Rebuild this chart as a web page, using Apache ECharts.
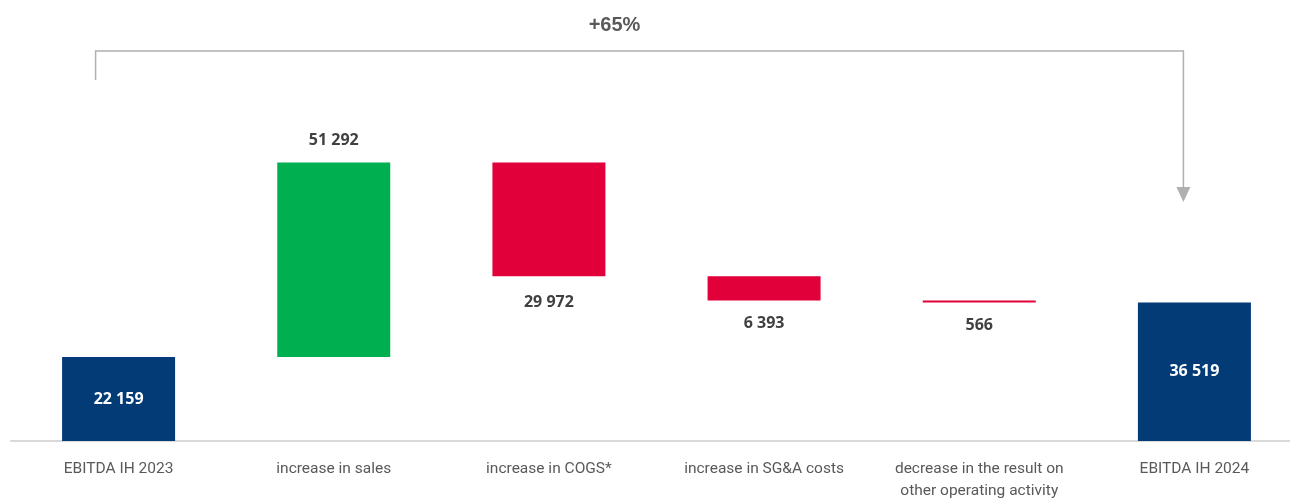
<!DOCTYPE html>
<html><head><meta charset="utf-8">
<script src="https://cdn.jsdelivr.net/npm/echarts@6/dist/echarts.min.js"></script>
<style>html,body{margin:0;padding:0;background:#fff;overflow:hidden}#c{width:1290px;height:499px}</style>
</head><body><div id="c"></div>
<script>
const categories = ['EBITDA IH 2023','increase in sales','increase in COGS*','increase in SG&A costs','decrease in the result on\nother operating activity','EBITDA IH 2024'];
const values = [22159, 51292, -29972, -6393, -566, 36519];
const kinds = ['total','up','down','down','down','total'];
const changeLabel = '+65%';

const colors = {total:'#033B77', up:'#00B050', down:'#E2003A'};
const fmt = v => String(Math.abs(v)).replace(/\B(?=(\d{3})+(?!\d))/g, ' ');

// build waterfall stacks
const base = [], shown = [];
let run = 0;
values.forEach((v,i)=>{
  if (kinds[i]==='total'){ base.push(0); shown.push(v); run = v; }
  else if (v>=0){ base.push(run); shown.push(v); run += v; }
  else { run += v; base.push(run); shown.push(-v); }
});

const chart = echarts.init(document.getElementById('c'));
const labelFont = {fontFamily:'Open Sans', fontWeight:'bold', fontSize:16};
chart.setOption({
  animation:false,
  grid:{left:11, width:1291, top:62, bottom:58, containLabel:false, outerBoundsMode:'none'},
  xAxis:{type:'category', data:categories,
    axisLine:{lineStyle:{color:'#D9D9D9', width:2}}, axisTick:{show:false},
    axisLabel:{color:'#595959', fontSize:15.5, fontFamily:'Roboto', margin:17, lineHeight:22, interval:0}},
  yAxis:{type:'value', min:0, max:100000, show:false, splitLine:{show:false}},
  series:[
    {type:'bar', stack:'w', data:base, itemStyle:{color:'transparent'}, barWidth:113, silent:true},
    {type:'bar', stack:'w', barWidth:113,
      data: shown.map((v,i)=>({
        value:v,
        itemStyle:{color:colors[kinds[i]]},
        label: kinds[i]==='total'
          ? {show:true, position:'inside', color:'#fff', ...labelFont, formatter:()=>fmt(values[i])}
          : kinds[i]==='up'
            ? {show:true, position:'top', distance:14, color:'#404040', ...labelFont, formatter:()=>fmt(values[i])}
            : {show:true, position:'bottom', distance: i===2 ? 18 : 15, color:'#404040', ...labelFont, formatter:()=>fmt(values[i])}
      }))
    }
  ]
});

// bracket annotation
const x0 = chart.convertToPixel({xAxisIndex:0}, 0) - 23;
const x5 = chart.convertToPixel({xAxisIndex:0}, 5) - 11;
const yTop = 51, yLeftEnd = 80, yRightEnd = 187;
const grey = '#B0B0B0';
chart.setOption({
  graphic:[
    {type:'polyline', shape:{points:[[x0,yLeftEnd],[x0,yTop],[x5,yTop],[x5,yRightEnd]]}, style:{stroke:grey, lineWidth:1.5, fill:null}},
    {type:'polygon', shape:{points:[[x5-7,yRightEnd],[x5+7,yRightEnd],[x5,yRightEnd+15]]}, style:{fill:grey}},
    {type:'text', x:(x0+x5)/2 - 25, y:25, style:{text:changeLabel, fill:'#595959', font:'bold 20px "Liberation Sans", Arial', align:'center', verticalAlign:'middle'}}
  ]
});
</script></body></html>
